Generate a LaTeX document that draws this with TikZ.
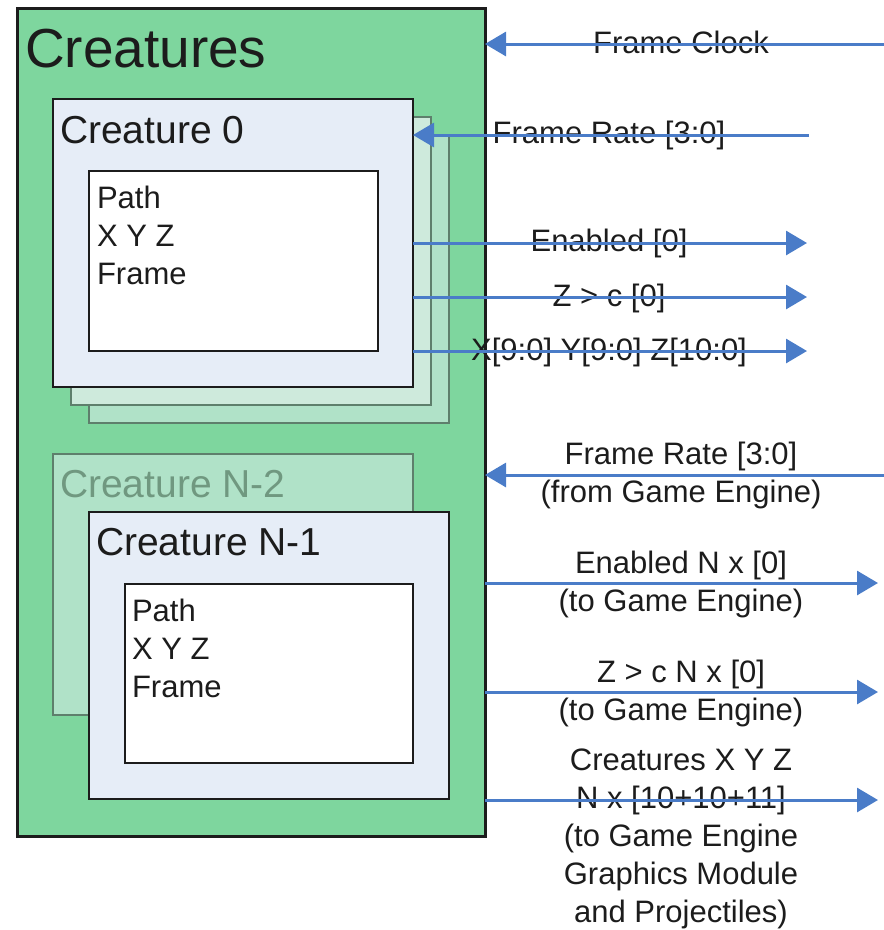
\documentclass[tikz,border=0pt]{standalone}
\usepackage{fontspec}
\setmainfont{Liberation Sans}
\usetikzlibrary{arrows.meta}

\definecolor{groupgreen}{RGB}{126,214,158}
\definecolor{cardblue}{RGB}{230,237,247}
\definecolor{ghostA}{RGB}{206,234,220}
\definecolor{ghostB}{RGB}{176,226,200}
\definecolor{ghostedge}{RGB}{94,127,108}
\definecolor{ghosttext}{RGB}{112,152,128}
\definecolor{wire}{RGB}{74,124,200}
\definecolor{ink}{RGB}{28,28,28}

\begin{document}
\begin{tikzpicture}[x=1pt,y=-1pt,
  frame/.style={draw=ink, anchor=north west, inner sep=0pt, outer sep=0pt},
  group/.style={frame, fill=groupgreen, line width=3pt},
  card/.style={frame, fill=cardblue, line width=2.5pt},
  ghost/.style={frame, draw=ghostedge, line width=2pt},
  store/.style={frame, fill=white, line width=2.5pt},
  txt/.style={inner sep=0pt, outer sep=0pt, text=ink, anchor=base west},
  sig/.style={inner sep=0pt, outer sep=0pt, text=ink, anchor=base, align=center,
              font=\fontsize{31}{38}\selectfont},
  wireline/.style={draw=wire, line width=3pt, -{Triangle[length=21pt,width=24pt]}}
]
\useasboundingbox (0,0) rectangle (884,930);

% enclosing group
\node[group, minimum width=468pt, minimum height=828pt] (creatures) at (17,8) {};

% stacked copies behind creature 0
\node[ghost, fill=ghostB, minimum width=360pt, minimum height=288pt] (c0back) at (89,135) {};
\node[ghost, fill=ghostA, minimum width=360pt, minimum height=288pt] (c0mid) at (71,117) {};
\node[card, minimum width=360pt, minimum height=288pt] (c0) at (53,99) {};
\node[store, minimum width=289pt, minimum height=180pt] (m0) at (89,171) {};

% last two creatures
\node[ghost, fill=ghostB, minimum width=360pt, minimum height=261pt] (cn2) at (53,454) {};
\node[card, minimum width=360pt, minimum height=287pt] (cn1) at (89,512) {};
\node[store, minimum width=288pt, minimum height=179pt] (mn1) at (125,584) {};

% titles (multi-line nodes sit on the baseline of their last line)
\node[txt, font=\fontsize{55}{60}\selectfont] (tCreatures) at (25,67) {Creatures};
\node[txt, font=\fontsize{39}{44}\selectfont] (tC0) at (60,143) {Creature 0};
\node[txt, font=\fontsize{31}{38}\selectfont, align=left] (tM0) at (97,284) {Path\\X Y Z\\Frame};
\node[txt, font=\fontsize{39}{44}\selectfont, text=ghosttext] (tCN2) at (60,497) {Creature N-2};
\node[txt, font=\fontsize{39}{44}\selectfont] (tCN1) at (96,555) {Creature N-1};
\node[txt, font=\fontsize{31}{38}\selectfont, align=left] (tMN1) at (132,697) {Path\\X Y Z\\Frame};

% signal labels
\node[sig] (lClock) at (681,53) {Frame Clock};
\node[sig] (lRate0) at (609,143) {Frame Rate [3:0]};
\node[sig] (lEn0) at (609,251) {Enabled [0]};
\node[sig] (lZ0) at (609,306) {Z > c [0]};
\node[sig] (lXYZ0) at (609,360) {X[9:0] Y[9:0] Z[10:0]};
\node[sig] (lRate) at (681,502) {Frame Rate [3:0]\\(from Game Engine)};
\node[sig] (lEn) at (681,611) {Enabled N x [0]\\(to Game Engine)};
\node[sig] (lZ) at (681,720) {Z > c N x [0]\\(to Game Engine)};
\node[sig] (lXYZ) at (681,922) {Creatures X Y Z\\N x [10+10+11]\\(to Game Engine\\Graphics Module\\and Projectiles)};

% free ends of the signals
\coordinate (clockIn) at (884,44);
\coordinate (rate0In) at (809,135);
\coordinate (en0Out) at (807,243);
\coordinate (z0Out) at (807,297);
\coordinate (xyz0Out) at (807,351);
\coordinate (rateIn) at (884,475);
\coordinate (enOut) at (878,583);
\coordinate (zOut) at (878,692);
\coordinate (xyzOut) at (878,800);

% signals
\draw[wireline] (clockIn) -- (creatures.east |- clockIn);
\draw[wireline] (rate0In) -- (c0.east |- rate0In);
\draw[wireline] (c0.east |- en0Out) -- (en0Out);
\draw[wireline] (c0.east |- z0Out) -- (z0Out);
\draw[wireline] (c0.east |- xyz0Out) -- (xyz0Out);
\draw[wireline] (rateIn) -- (creatures.east |- rateIn);
\draw[wireline] (creatures.east |- enOut) -- (enOut);
\draw[wireline] (creatures.east |- zOut) -- (zOut);
\draw[wireline] (creatures.east |- xyzOut) -- (xyzOut);
\end{tikzpicture}
\end{document}
